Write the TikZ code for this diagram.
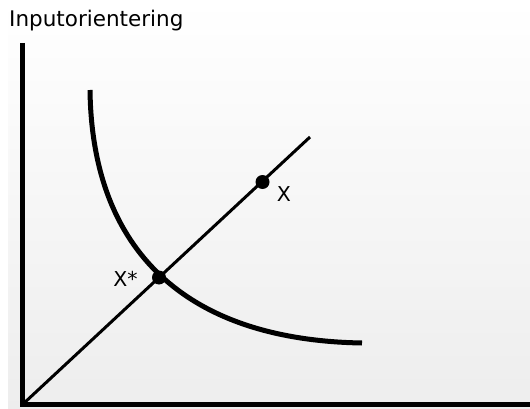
\documentclass[tikz,border=0pt]{standalone}
\usepackage{fontspec}
\setmainfont{DejaVu Sans}
\begin{document}
\begin{tikzpicture}[x=1pt,y=-1pt,
  axisline/.style={line width=5.5pt,line join=miter},
  rayline/.style={line width=3pt},
  isoquant/.style={line width=5pt},
  dotnode/.style={circle,fill=black,inner sep=0pt,minimum size=14pt},
  lbl/.style={inner sep=0pt,font=\fontsize{20.5}{24}\selectfont}]
\useasboundingbox (0,0) rectangle (530,409);
\shade[top color=white,bottom color=black!7] (8,0) rectangle (530,409);
\node[anchor=base west,inner sep=0pt,font=\fontsize{21.5}{26}\selectfont] (title) at (9,27) {Inputorientering};
\coordinate (top) at (22.5,43);
\coordinate (O) at (22.5,404.5);
\coordinate (right) at (530,404.5);
\coordinate (E) at (310,137);
\coordinate (cs) at (90,90);
\coordinate (ce) at (362,343);
\draw[axisline] (top) -- (O) -- (right);
\draw[rayline] (O) -- (E);
\draw[isoquant] (cs) .. controls (92,250) and (185,340) .. (ce);
\node[dotnode] (xs) at (159,277.5) {};
\node[dotnode] (xp) at (262.5,182) {};
\node[lbl] (xslabel) at (125.5,278.5) {X*};
\node[lbl] (xlabel) at (284,194.5) {X};
\end{tikzpicture}
\end{document}
